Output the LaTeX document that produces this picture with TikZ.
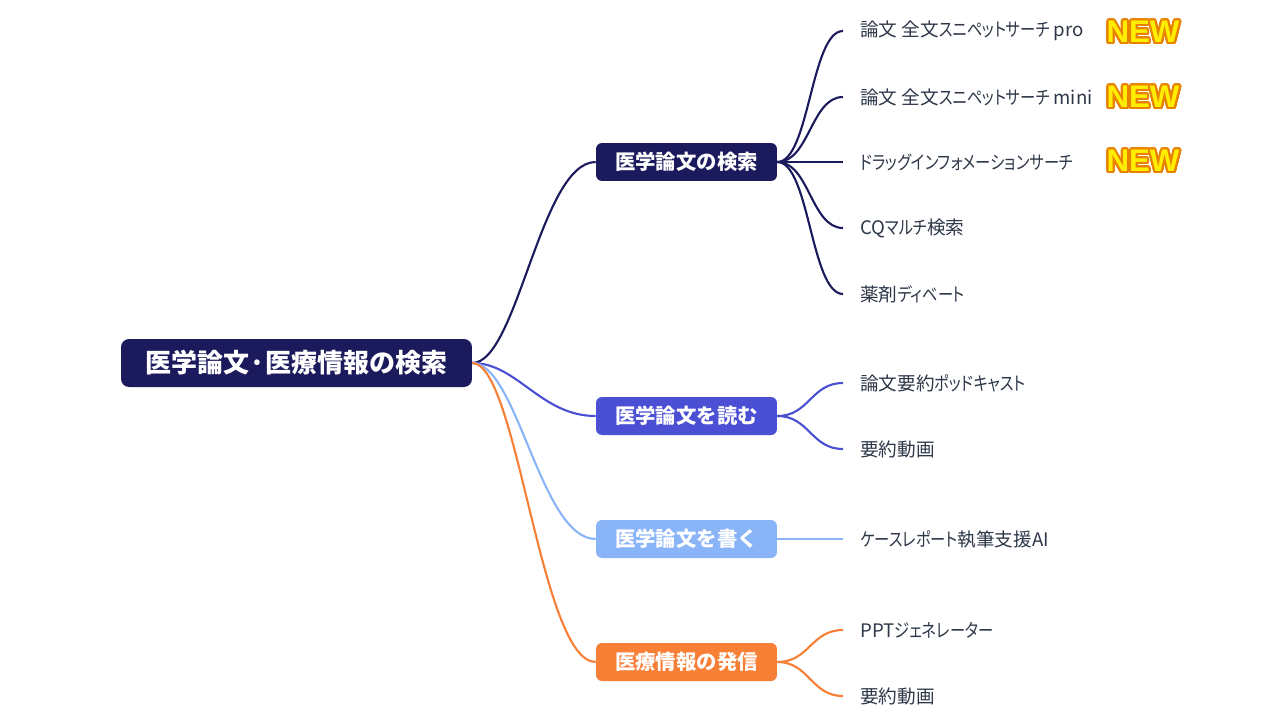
\documentclass[tikz,border=0pt]{standalone}
\usepackage{fontspec}
\usepackage{contour}
\setmainfont{Noto Sans CJK JP}
\newfontfamily\leaffont{Noto Sans CJK JP}[RawFeature=+palt]
\newfontfamily\kanafont{Noto Sans CJK JP}[RawFeature=+palt, FakeStretch=0.82]
\newcommand\kn[1]{{\kanafont #1}}
\newfontfamily\newbadge{Liberation Sans}
\contourlength{1.2pt}
\contournumber{24}
\definecolor{navy}{RGB}{27,26,92}
\definecolor{readblue}{RGB}{74,79,212}
\definecolor{writeblue}{RGB}{138,180,248}
\definecolor{sendorange}{RGB}{247,127,54}
\definecolor{leafgray}{RGB}{45,55,72}
\definecolor{badgefill}{RGB}{255,238,0}
\definecolor{badgeline}{RGB}{232,130,0}

\begin{document}
\begin{tikzpicture}[x=0.02cm, y=-0.02cm,
    rootbox/.style={fill=navy, text=white, rounded corners=0.16cm, minimum width=7.02cm, minimum height=0.96cm, inner sep=0pt, font=\bfseries\fontsize{14.8}{18}\selectfont},
    topic/.style={rounded corners=0.12cm, text=white, minimum width=3.62cm, minimum height=0.76cm, inner sep=0pt, font=\bfseries\fontsize{11.6}{14}\selectfont},
    leaf/.style={anchor=west, inner xsep=0.34cm, inner ysep=0pt, text=leafgray, font=\leaffont\fontsize{10.6}{13}\selectfont},
    link/.style={line width=1.2pt},
    badge/.style={inner sep=0pt, font=\newbadge\bfseries\fontsize{17.8}{20}\selectfont}]
    \useasboundingbox (0,0) rectangle (1280,720);
    \node[rootbox] (root) at (296.5,363) {医学論文·医療情報の検索};
    \node[topic, fill=navy] (b1) at (686.5,162) {医学論文の検索};
    \node[topic, fill=readblue] (b2) at (686.5,416) {医学論文を読む};
    \node[topic, fill=writeblue] (b3) at (686.5,539) {医学論文を書く};
    \node[topic, fill=sendorange] (b4) at (686.5,662) {医療情報の発信};
    % root to topics
    \draw[link, navy] (root.east) .. controls +(45,0) and +(-55,0) .. (b1.west);
    \draw[link, readblue] (root.east) .. controls +(45,0) and +(-55,0) .. (b2.west);
    \draw[link, writeblue] (root.east) .. controls +(45,0) and +(-55,0) .. (b3.west);
    \draw[link, sendorange] (root.east) .. controls +(45,0) and +(-55,0) .. (b4.west);
    % topics to leaves
    \foreach \yy/\txt [count=\i] in {31/{論文 全文\kn{スニペットサーチ} pro}, 97/{論文 全文\kn{スニペットサーチ} mini}, 162/\kn{ドラッグインフォメーションサーチ}, 228/{CQ\kn{マルチ}検索}, 294/{薬剤\kn{ディベート}}} {
        \node[leaf] (s\i) at (843,\yy) {\txt};
        \draw[link, navy] (b1.east) .. controls +(32,0) and +(-32,0) .. (s\i.west);
    }
    \foreach \yy/\txt [count=\i] in {383/{論文要約\kn{ポッドキャスト}}, 449/要約動画} {
        \node[leaf] (r\i) at (843,\yy) {\txt};
        \draw[link, readblue] (b2.east) .. controls +(32,0) and +(-32,0) .. (r\i.west);
    }
    \node[leaf] (w1) at (843,539) {\kn{ケースレポート}執筆支援AI};
    \draw[link, writeblue] (b3.east) -- (w1.west);
    \foreach \yy/\txt [count=\i] in {630/{PPT\kn{ジェネレーター}}, 696/要約動画} {
        \node[leaf] (p\i) at (843,\yy) {\txt};
        \draw[link, sendorange] (b4.east) .. controls +(32,0) and +(-32,0) .. (p\i.west);
    }
    % new badges
    \foreach \yy [count=\i] in {33,98,162} {
        \node[badge] (new\i) at (1143,\yy) {\contour{badgeline}{\textcolor{badgefill}{NEW}}};
    }
\end{tikzpicture}
\end{document}
